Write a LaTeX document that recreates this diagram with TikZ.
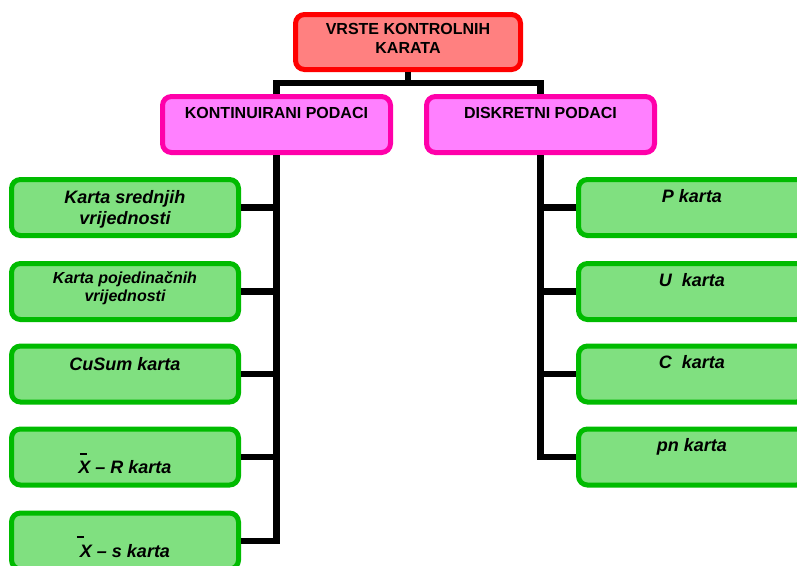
\documentclass[tikz,border=0pt]{standalone}
\usepackage{fontspec}
\setmainfont{Liberation Sans}

\definecolor{rootline}{RGB}{255,0,0}
\definecolor{rootfill}{RGB}{255,128,128}
\definecolor{catline}{RGB}{255,0,170}
\definecolor{catfill}{RGB}{255,128,255}
\definecolor{chartline}{RGB}{0,187,0}
\definecolor{chartfill}{RGB}{128,224,128}

% text block of a box: first baseline #1 pt above the box centre
\newcommand\boxtext[2]{\parbox[c][\dimexpr(\ht\strutbox+#1pt)*2\relax][t]{220pt}{\centering\strut #2}}
% short bar standing over the X of the mean charts
\newcommand\meanbar[2]{\leavevmode\rlap{\hspace{#1}\smash{\raisebox{#2}{\rule{7.5pt}{1.5pt}}}}}

\begin{document}
\begin{tikzpicture}[x=1pt,y=-1pt,
  box/.style={draw, line width=5pt, rounded corners=9pt, inner sep=0pt,
    minimum width=227pt, minimum height=56pt},
  rootbox/.style={box, draw=rootline, fill=rootfill, minimum width=225pt,
    minimum height=55pt, font=\bfseries\fontsize{16}{19}\selectfont},
  catbox/.style={box, draw=catline, fill=catfill, minimum width=228pt,
    font=\bfseries\fontsize{16}{19}\selectfont},
  chartbox/.style={box, draw=chartline, fill=chartfill,
    font=\bfseries\itshape\fontsize{18}{21}\selectfont},
  smalltext/.style={font=\bfseries\itshape\fontsize{16}{18}\selectfont},
  link/.style={draw=black, line width=6.5pt, line join=miter}]

\useasboundingbox (0,0) rectangle (797,565);
\clip (0,0) rectangle (797,565);
\fill[white] (0,0) rectangle (797,565);

% boxes
\node[rootbox] (root) at (408,42) {\boxtext{8}{VRSTE KONTROLNIH\\KARATA}};
\node[catbox] (kont) at (276.5,124.5) {\boxtext{6.5}{KONTINUIRANI PODACI}};
\node[catbox] (disk) at (540.5,124.5) {\boxtext{6.5}{DISKRETNI PODACI}};

\node[chartbox] (l1) at (125,207.5) {\boxtext{4.5}{Karta srednjih\\vrijednosti}};
\node[chartbox,smalltext] (l2) at (125,291.5) {\boxtext{8.5}{Karta pojedinačnih\\vrijednosti}};
\node[chartbox] (l3) at (125,374) {\boxtext{4}{CuSum karta}};
\node[chartbox] (l4) at (125,457) {\boxtext{4.5}{\\\meanbar{1.5pt}{19pt}X – R karta}};
\node[chartbox] (l5) at (125,541) {\boxtext{4.5}{\\\meanbar{-3pt}{20pt}X – s karta}};

\node[chartbox] (r1) at (692,207.5) {\boxtext{5.5}{P karta}};
\node[chartbox] (r2) at (692,291.5) {\boxtext{5.5}{U~~karta}};
\node[chartbox] (r3) at (692,374) {\boxtext{5.5}{C~~karta}};
\node[chartbox] (r4) at (692,457) {\boxtext{5.5}{pn karta}};

% connectors
\coordinate (bar) at (408,83);
\path[link] (root.south) -- (root.south |- bar);
\path[link] (kont.north) -- (kont.north |- bar) -- (disk.north |- bar) -- (disk.north);

\path[link] (kont.south) |- (l5.east);
\foreach \n in {l1,l2,l3,l4}
  \path[link] (\n.east) -- (\n.east -| kont.south);

\path[link] (disk.south) |- (r4.west);
\foreach \n in {r1,r2,r3}
  \path[link] (\n.west) -- (\n.west -| disk.south);
\end{tikzpicture}
\end{document}
